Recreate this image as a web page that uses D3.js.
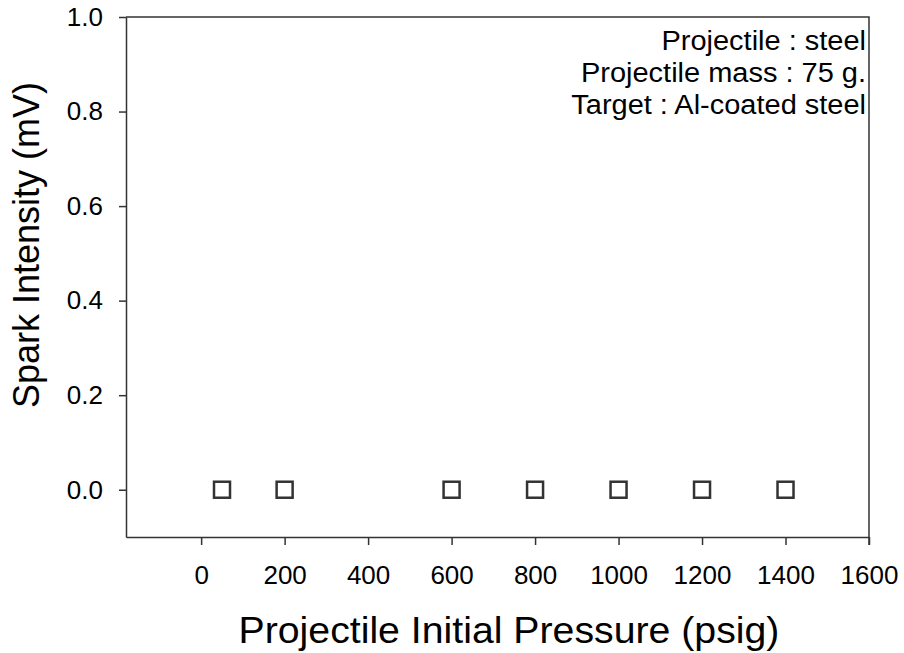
<!DOCTYPE html>
<html>
<head>
<meta charset="utf-8">
<script src="https://cdn.jsdelivr.net/npm/d3@7"></script>
<style>
body { margin: 0; background: #fff; }
text { font-family: "Liberation Sans", Arial, sans-serif; fill: #000; }
</style>
</head>
<body>
<script>
var pressure = [50, 200, 600, 800, 1000, 1200, 1400];
var intensity = [0, 0, 0, 0, 0, 0, 0];
var xTicks = [0, 200, 400, 600, 800, 1000, 1200, 1400, 1600];
var yTicks = [0, 0.2, 0.4, 0.6, 0.8, 1.0];
var notes = ["Projectile : steel", "Projectile mass : 75 g.", "Target : Al-coated steel"];

var width = 904, height = 653;
var plotLeft = 126, plotRight = 869, plotTop = 17, plotBottom = 537;

var x = d3.scaleLinear().domain([-180, 1600]).range([plotLeft, plotRight]);
var y = d3.scaleLinear().domain([-0.1, 1.0]).range([plotBottom, plotTop]);

var svg = d3.select("body").append("svg")
    .attr("width", width)
    .attr("height", height);

// frame top + right
svg.append("path")
    .attr("d", "M" + plotLeft + "," + plotTop + "H" + plotRight + "V" + (plotBottom + 8))
    .attr("fill", "none")
    .attr("stroke", "#333")
    .attr("stroke-width", 1.5);

var xAxis = svg.append("g")
    .attr("transform", "translate(0," + plotBottom + ")")
    .call(d3.axisBottom(x).tickValues(xTicks).tickSizeInner(8).tickSizeOuter(0).tickPadding(21)
        .tickFormat(d3.format("d")));

var yAxis = svg.append("g")
    .attr("transform", "translate(" + plotLeft + ",0)")
    .call(d3.axisLeft(y).tickValues(yTicks).tickSizeInner(7).tickSizeOuter(0).tickPadding(16)
        .tickFormat(d3.format(".1f")));

[xAxis, yAxis].forEach(function(g) {
    g.select(".domain").attr("stroke", "#333").attr("stroke-width", 1.5);
    g.selectAll(".tick line").attr("stroke", "#333").attr("stroke-width", 1.5);
    g.selectAll(".tick text").attr("font-size", 26).attr("fill", "#000")
        .style("font-family", "'Liberation Sans', Arial, sans-serif");
});

svg.selectAll("rect.pt")
    .data(pressure)
    .enter()
    .append("rect")
    .attr("class", "pt")
    .attr("x", function(d) { return x(d) - 8; })
    .attr("y", function(d, i) { return y(intensity[i]) - 8; })
    .attr("width", 16)
    .attr("height", 16)
    .attr("fill", "none")
    .attr("stroke", "#333")
    .attr("stroke-width", 2.5);

// the original text is a bit wider than Liberation Sans, stretch a little
function widen(sel, k) {
    sel.each(function() {
        var w = this.getComputedTextLength();
        d3.select(this).attr("textLength", w * k).attr("lengthAdjust", "spacingAndGlyphs");
    });
}

var noteText = svg.selectAll("text.note")
    .data(notes)
    .enter()
    .append("text")
    .attr("class", "note")
    .attr("x", 866)
    .attr("y", function(d, i) { return 50 + i * 32; })
    .attr("text-anchor", "end")
    .attr("font-size", 27)
    .text(function(d) { return d; });
widen(noteText, 1.073);

var xTitle = svg.append("text")
    .attr("x", 509)
    .attr("y", 643)
    .attr("text-anchor", "middle")
    .attr("font-size", 36)
    .text("Projectile Initial Pressure (psig)");
widen(xTitle, 1.09);

svg.append("text")
    .attr("transform", "translate(39,245) rotate(-90)")
    .attr("text-anchor", "middle")
    .attr("font-size", 36)
    .text("Spark Intensity (mV)");
</script>
</body>
</html>
